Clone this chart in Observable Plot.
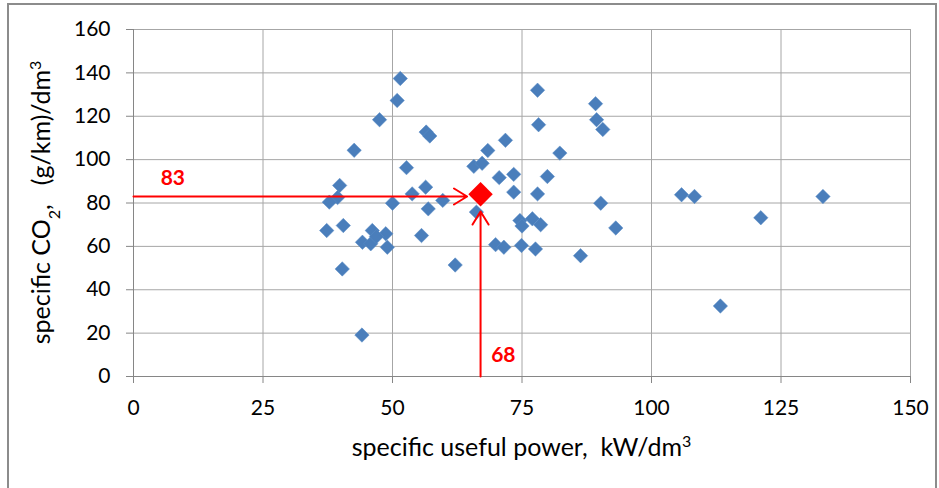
<!DOCTYPE html>
<html><head><meta charset="utf-8">
<script src="https://cdn.jsdelivr.net/npm/d3@7"></script>
<script src="https://cdn.jsdelivr.net/npm/@observablehq/plot@0.6"></script>
<style>
body{margin:0;background:#fff;}
#wrap{position:relative;width:939px;height:488px;overflow:hidden;}
#border{position:absolute;left:7px;top:3px;width:930px;height:520px;border:2px solid #8c8c8c;box-sizing:border-box;pointer-events:none}
</style></head><body><div id="wrap"><div id="border"></div></div>
<script>
const powerX = [51.5,50.9,47.5,56.5,57.2,42.6,68.4,71.8,52.7,65.7,67.3,70.6,73.4,79.9,82.3,78.0,89.2,89.4,90.6,78.2,
  39.8,39.4,37.8,53.8,56.4,50.0,56.9,59.7,66.2,73.4,78.0,90.2,37.3,40.5,46.1,44.2,45.8,48.7,49.0,55.6,
  40.3,62.1,44.1,69.9,71.5,74.9,77.6,86.3,74.6,75.0,77.0,78.6,93.1,105.8,108.3,121.1,113.3,133.1,46.9];
const co2Y = [137.4,127.3,118.4,112.7,110.9,104.3,104.2,108.9,96.3,96.9,98.3,91.7,93.2,92.2,103.0,132.0,125.8,118.4,113.9,116.1,
  88.1,82.5,80.4,84.2,87.3,79.9,77.3,81.2,75.8,85.0,84.2,79.9,67.3,69.6,67.3,61.9,61.2,65.8,59.6,65.0,
  49.6,51.4,19.1,60.8,59.6,60.4,58.8,55.7,71.9,69.4,72.7,70.0,68.5,83.8,83.0,73.2,32.5,83.0,64.5];
const selectedPower = 67, selectedCO2 = 84;
const markedPower = 64.4, markedCO2 = 83, markedTop = 76.1;
const labelPower = "68", labelCO2 = "83";
const xTicks = [0,25,50,75,100,125,150];
const yTicks = [0,20,40,60,80,100,120,140,160];

const points = powerX.map((x,i)=>({x, y: co2Y[i]}));
const FONT = "Lato, 'Open Sans', sans-serif";

const chart = Plot.plot({
  width: 939, height: 488,
  marginLeft: 133, marginRight: 29, marginTop: 29, marginBottom: 112,
  style: {fontFamily: FONT, fontSize: "21px", background: "transparent", overflow: "visible"},
  x: {domain: [0,150]},
  y: {domain: [0,160]},
  marks: [
    Plot.gridX(xTicks, {stroke: "#a6a6a6", strokeOpacity: 1}),
    Plot.gridY(yTicks, {stroke: "#a6a6a6", strokeOpacity: 1}),
    Plot.ruleX([0], {stroke: "#868686"}),
    Plot.ruleY([0], {stroke: "#868686"}),
    Plot.axisX({ticks: xTicks, tickSize: 7, tickPadding: 17, stroke: "#868686", fill: "#000", label: null, fontSize: 21}),
    Plot.axisY({ticks: yTicks, tickSize: 7, tickPadding: 16, stroke: "#868686", fill: "#000", label: null, fontSize: 21}),
    Plot.dot(points, {x: "x", y: "y", symbol: "diamond2", r: 6.5, fill: "#4a7ebb", stroke: "#5a8cc6", strokeWidth: 0.5}),
    Plot.arrow([{}], {x1: 0, y1: markedCO2, x2: markedPower, y2: markedCO2, stroke: "#ff0000", strokeWidth: 2, headLength: 11.5, headAngle: 63}),
    Plot.arrow([{}], {x1: selectedPower, y1: 0, x2: selectedPower, y2: markedTop, stroke: "#ff0000", strokeWidth: 2, headLength: 11.5, headAngle: 63}),
    Plot.dot([{x: selectedPower, y: selectedCO2}], {x: "x", y: "y", symbol: "diamond2", r: 11, fill: "#ff0000"}),
    Plot.text([labelCO2], {x: 7.6, y: 91.3, text: d => d, fill: "#ff0000", fontWeight: "bold", fontSize: 21}),
    Plot.text([labelPower], {x: 71.4, y: 9.6, text: d => d, fill: "#ff0000", fontWeight: "bold", fontSize: 21})
  ]
});
document.getElementById("wrap").prepend(chart);

const svg = d3.select(chart);
const xl = svg.append("text")
  .attr("x", (133 + 910) / 2).attr("y", 456)
  .attr("text-anchor", "middle").attr("font-family", FONT).attr("font-size", 25)
  .style("white-space", "pre").attr("fill", "#000");
xl.append("tspan").text("specific useful power,  kW/dm");
xl.append("tspan").attr("baseline-shift", "super").attr("font-size", 16).text("3");

const yl = svg.append("text")
  .attr("transform", `translate(50,${(29 + 376) / 2}) rotate(-90)`)
  .attr("text-anchor", "middle").attr("font-family", FONT).attr("font-size", 25)
  .style("white-space", "pre").attr("fill", "#000");
yl.append("tspan").text("specific CO");
yl.append("tspan").attr("baseline-shift", "sub").attr("font-size", 16).text("2");
yl.append("tspan").text(",   (g/km)/dm");
yl.append("tspan").attr("baseline-shift", "super").attr("font-size", 16).text("3");
</script>
</body></html>
